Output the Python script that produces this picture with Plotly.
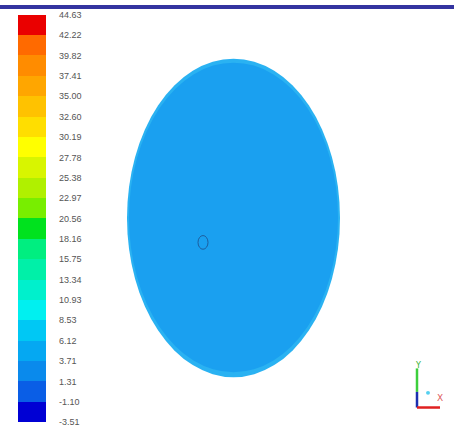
import plotly.graph_objects as go

# ---- data ----
levels = [-3.51, -1.10, 1.31, 3.71, 6.12, 8.53, 10.93, 13.34, 15.75, 18.16,
          20.56, 22.97, 25.38, 27.78, 30.19, 32.60, 35.00, 37.41, 39.82, 42.22, 44.63]
level_labels = ["-3.51", "-1.10", "1.31", "3.71", "6.12", "8.53", "10.93", "13.34",
                "15.75", "18.16", "20.56", "22.97", "25.38", "27.78", "30.19",
                "32.60", "35.00", "37.41", "39.82", "42.22", "44.63"]
band_colors = ["#0000d4", "#0a5ee6", "#0a8aec", "#05a8f2", "#00c8f4", "#00f0f0",
               "#00f0cc", "#00f0a8", "#00ee80", "#00e21e", "#78ee00", "#b0f000",
               "#d8f500", "#ffff00", "#ffde00", "#ffc200", "#ffa600", "#ff8c00",
               "#ff6a00", "#ea0000"]

W, H = 454, 434

fig = go.Figure()

# colour legend bars, drawn on their own value axis
bases = levels[:-1]
heights = [levels[i + 1] - levels[i] for i in range(len(levels) - 1)]
fig.add_trace(go.Bar(
    x=[0] * len(bases), y=heights, base=bases,
    marker=dict(color=band_colors, line=dict(width=0)),
    width=1, xaxis="x2", yaxis="y2", showlegend=False, hoverinfo="skip"))

# main canvas (pixel-like coordinates)
fig.add_trace(go.Scatter(x=[0, W], y=[0, H], mode="markers",
                         marker=dict(opacity=0), showlegend=False, hoverinfo="skip"))

shapes = []
# top banner
shapes.append(dict(type="rect", xref="x", yref="y", x0=0, x1=W, y0=0, y1=4,
                   fillcolor="#3434a0", line=dict(width=0), layer="above"))
# ellipse: outer light band
shapes.append(dict(type="circle", xref="x", yref="y", x0=127, x1=340, y0=55, y1=381,
                   fillcolor="#2ab2f2", line=dict(width=0)))
# inner main fill
shapes.append(dict(type="circle", xref="x", yref="y", x0=129, x1=338, y0=59, y1=376,
                   fillcolor="#1aa0f0", line=dict(width=0)))
# small hole
shapes.append(dict(type="circle", xref="x", yref="y", x0=198, x1=208, y0=236, y1=250,
                   fillcolor="rgba(0,0,0,0)", line=dict(width=1, color="#1d5e9e")))
# triad
shapes.append(dict(type="line", xref="x", yref="y", x0=417, x1=417, y0=372, y1=396,
                   line=dict(width=2.5, color="#3ccf3c")))
shapes.append(dict(type="line", xref="x", yref="y", x0=417, x1=417, y0=396, y1=412,
                   line=dict(width=2.5, color="#1a2fb0")))
shapes.append(dict(type="line", xref="x", yref="y", x0=417, x1=440, y0=412, y1=412,
                   line=dict(width=2.5, color="#e02020")))
shapes.append(dict(type="circle", xref="x", yref="y", x0=426, x1=430, y0=395, y1=399,
                   fillcolor="#55d0f0", line=dict(width=0)))

annotations = [
    dict(x=418, y=369, xref="x", yref="y", text="Y", showarrow=False,
         font=dict(size=8, color="#30b030", family="DejaVu Sans"), xanchor="center", yanchor="middle"),
    dict(x=440, y=402, xref="x", yref="y", text="X", showarrow=False,
         font=dict(size=9, color="#e06060", family="DejaVu Sans"), xanchor="center", yanchor="middle"),
]

cb_top, cb_bot = 10, 427
fig.update_layout(
    width=W, height=H, margin=dict(l=0, r=0, t=0, b=0),
    paper_bgcolor="white", plot_bgcolor="white",
    shapes=shapes, annotations=annotations, bargap=0,
    xaxis=dict(range=[0, W], domain=[0, 1], visible=False, fixedrange=True),
    yaxis=dict(range=[H, 0], domain=[0, 1], visible=False, fixedrange=True),
    xaxis2=dict(range=[-0.5, 0.5], domain=[18 / W, 46 / W], visible=False,
                anchor="y2", fixedrange=True),
    yaxis2=dict(range=[levels[0], levels[-1]],
                domain=[1 - cb_bot / H, 1 - cb_top / H],
                anchor="x2", side="right", showgrid=False, zeroline=False,
                showline=False, ticks="", tickvals=levels, ticktext=level_labels,
                ticklabelstandoff=12, fixedrange=True,
                tickfont=dict(family="Liberation Sans, Arial, sans-serif",
                              size=9, color="#555555")),
)

fig.write_html("out.html", config={"displayModeBar": False, "staticPlot": True},
               post_script="document.body.style.margin='0px';document.body.style.padding='0px';")
